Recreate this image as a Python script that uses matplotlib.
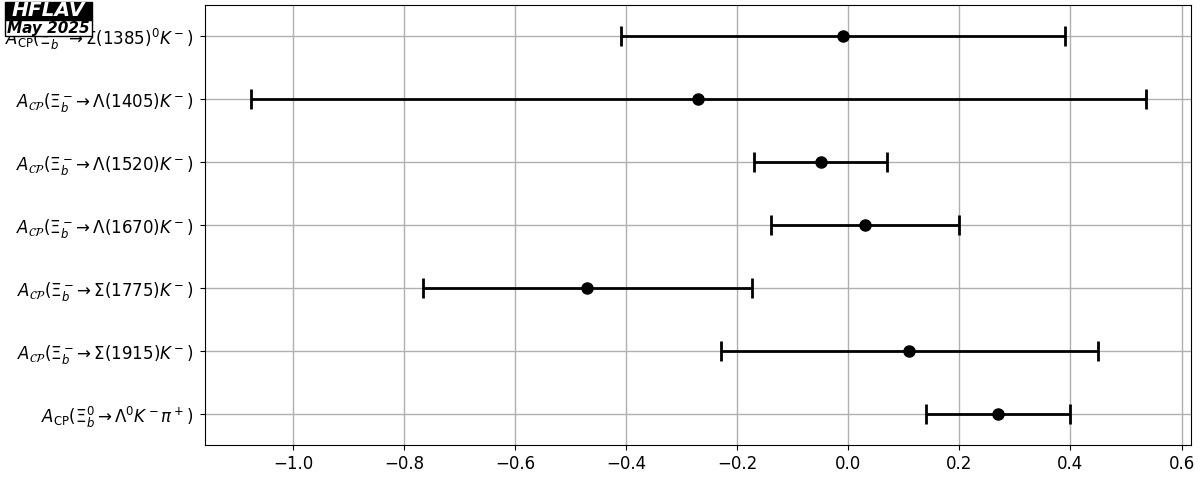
import matplotlib
matplotlib.use('Agg')
import matplotlib.pyplot as plt
from matplotlib.patches import Rectangle
import numpy as np

# measurements, listed top to bottom
labels = [
    r'$A_{\rm CP}(\Xi_b^-\to\Sigma(1385)^0K^-)$',
    r'$A_{\mathcal{CP}}(\Xi_b^-\!\to\Lambda(1405)K^-)$',
    r'$A_{\mathcal{CP}}(\Xi_b^-\!\to\Lambda(1520)K^-)$',
    r'$A_{\mathcal{CP}}(\Xi_b^-\!\to\Lambda(1670)K^-)$',
    r'$A_{\mathcal{CP}}(\Xi_b^-\!\to\Sigma(1775)K^-)$',
    r'$A_{\mathcal{CP}}(\Xi_b^-\!\to\Sigma(1915)K^-)$',
    r'$A_{\rm CP}(\Xi_b^0\to\Lambda^0K^-\pi^+)$',
]
values = [-0.01, -0.27, -0.05, 0.03, -0.47, 0.11, 0.27]
errors = [0.40, 0.806, 0.12, 0.17, 0.296, 0.34, 0.13]

fig = plt.figure(figsize=(12, 4.8), dpi=100)
ax = fig.add_axes([0.171, 0.073, 0.8215, 0.9166])

ypos = np.arange(len(labels))[::-1]
ax.errorbar(values, ypos, xerr=errors, fmt='o', color='black', ecolor='black',
            markersize=8, elinewidth=2, capsize=7, capthick=2, zorder=3)

ax.set_yticks(ypos)
ax.set_yticklabels(labels, fontsize=12)
ax.set_ylim(-0.5, len(labels) - 0.5)
ax.set_xlim(-1.158, 0.617)
ax.set_xticks([-1.0, -0.8, -0.6, -0.4, -0.2, 0.0, 0.2, 0.4, 0.6])
ax.tick_params(axis='x', labelsize=12)
ax.tick_params(axis='y', pad=5)
ax.grid(True, color='#b0b0b0', linewidth=1)
ax.set_axisbelow(True)

# HFLAV logo (boxes in figure pixels: x 5-92, y 2-20 and 20-36 from top)
W, H = 1200.0, 480.0
fig.patches.append(Rectangle((5 / W, 1 - 20 / H), 87 / W, 18 / H, transform=fig.transFigure,
                             facecolor='black', edgecolor='black', zorder=5))
fig.patches.append(Rectangle((5 / W, 1 - 36 / H), 87 / W, 16 / H, transform=fig.transFigure,
                             facecolor='white', edgecolor='black', linewidth=1, zorder=5))
fig.text(48.5 / W, 1 - 11 / H, 'HFLAV', color='white', fontsize=14.5, fontweight='bold',
         style='italic', ha='center', va='center', zorder=6)
fig.text(48.5 / W, 1 - 28.5 / H, 'May 2025', color='black', fontsize=11, fontweight='bold',
         style='italic', ha='center', va='center', zorder=6)

fig.savefig('out.png', dpi=100)
